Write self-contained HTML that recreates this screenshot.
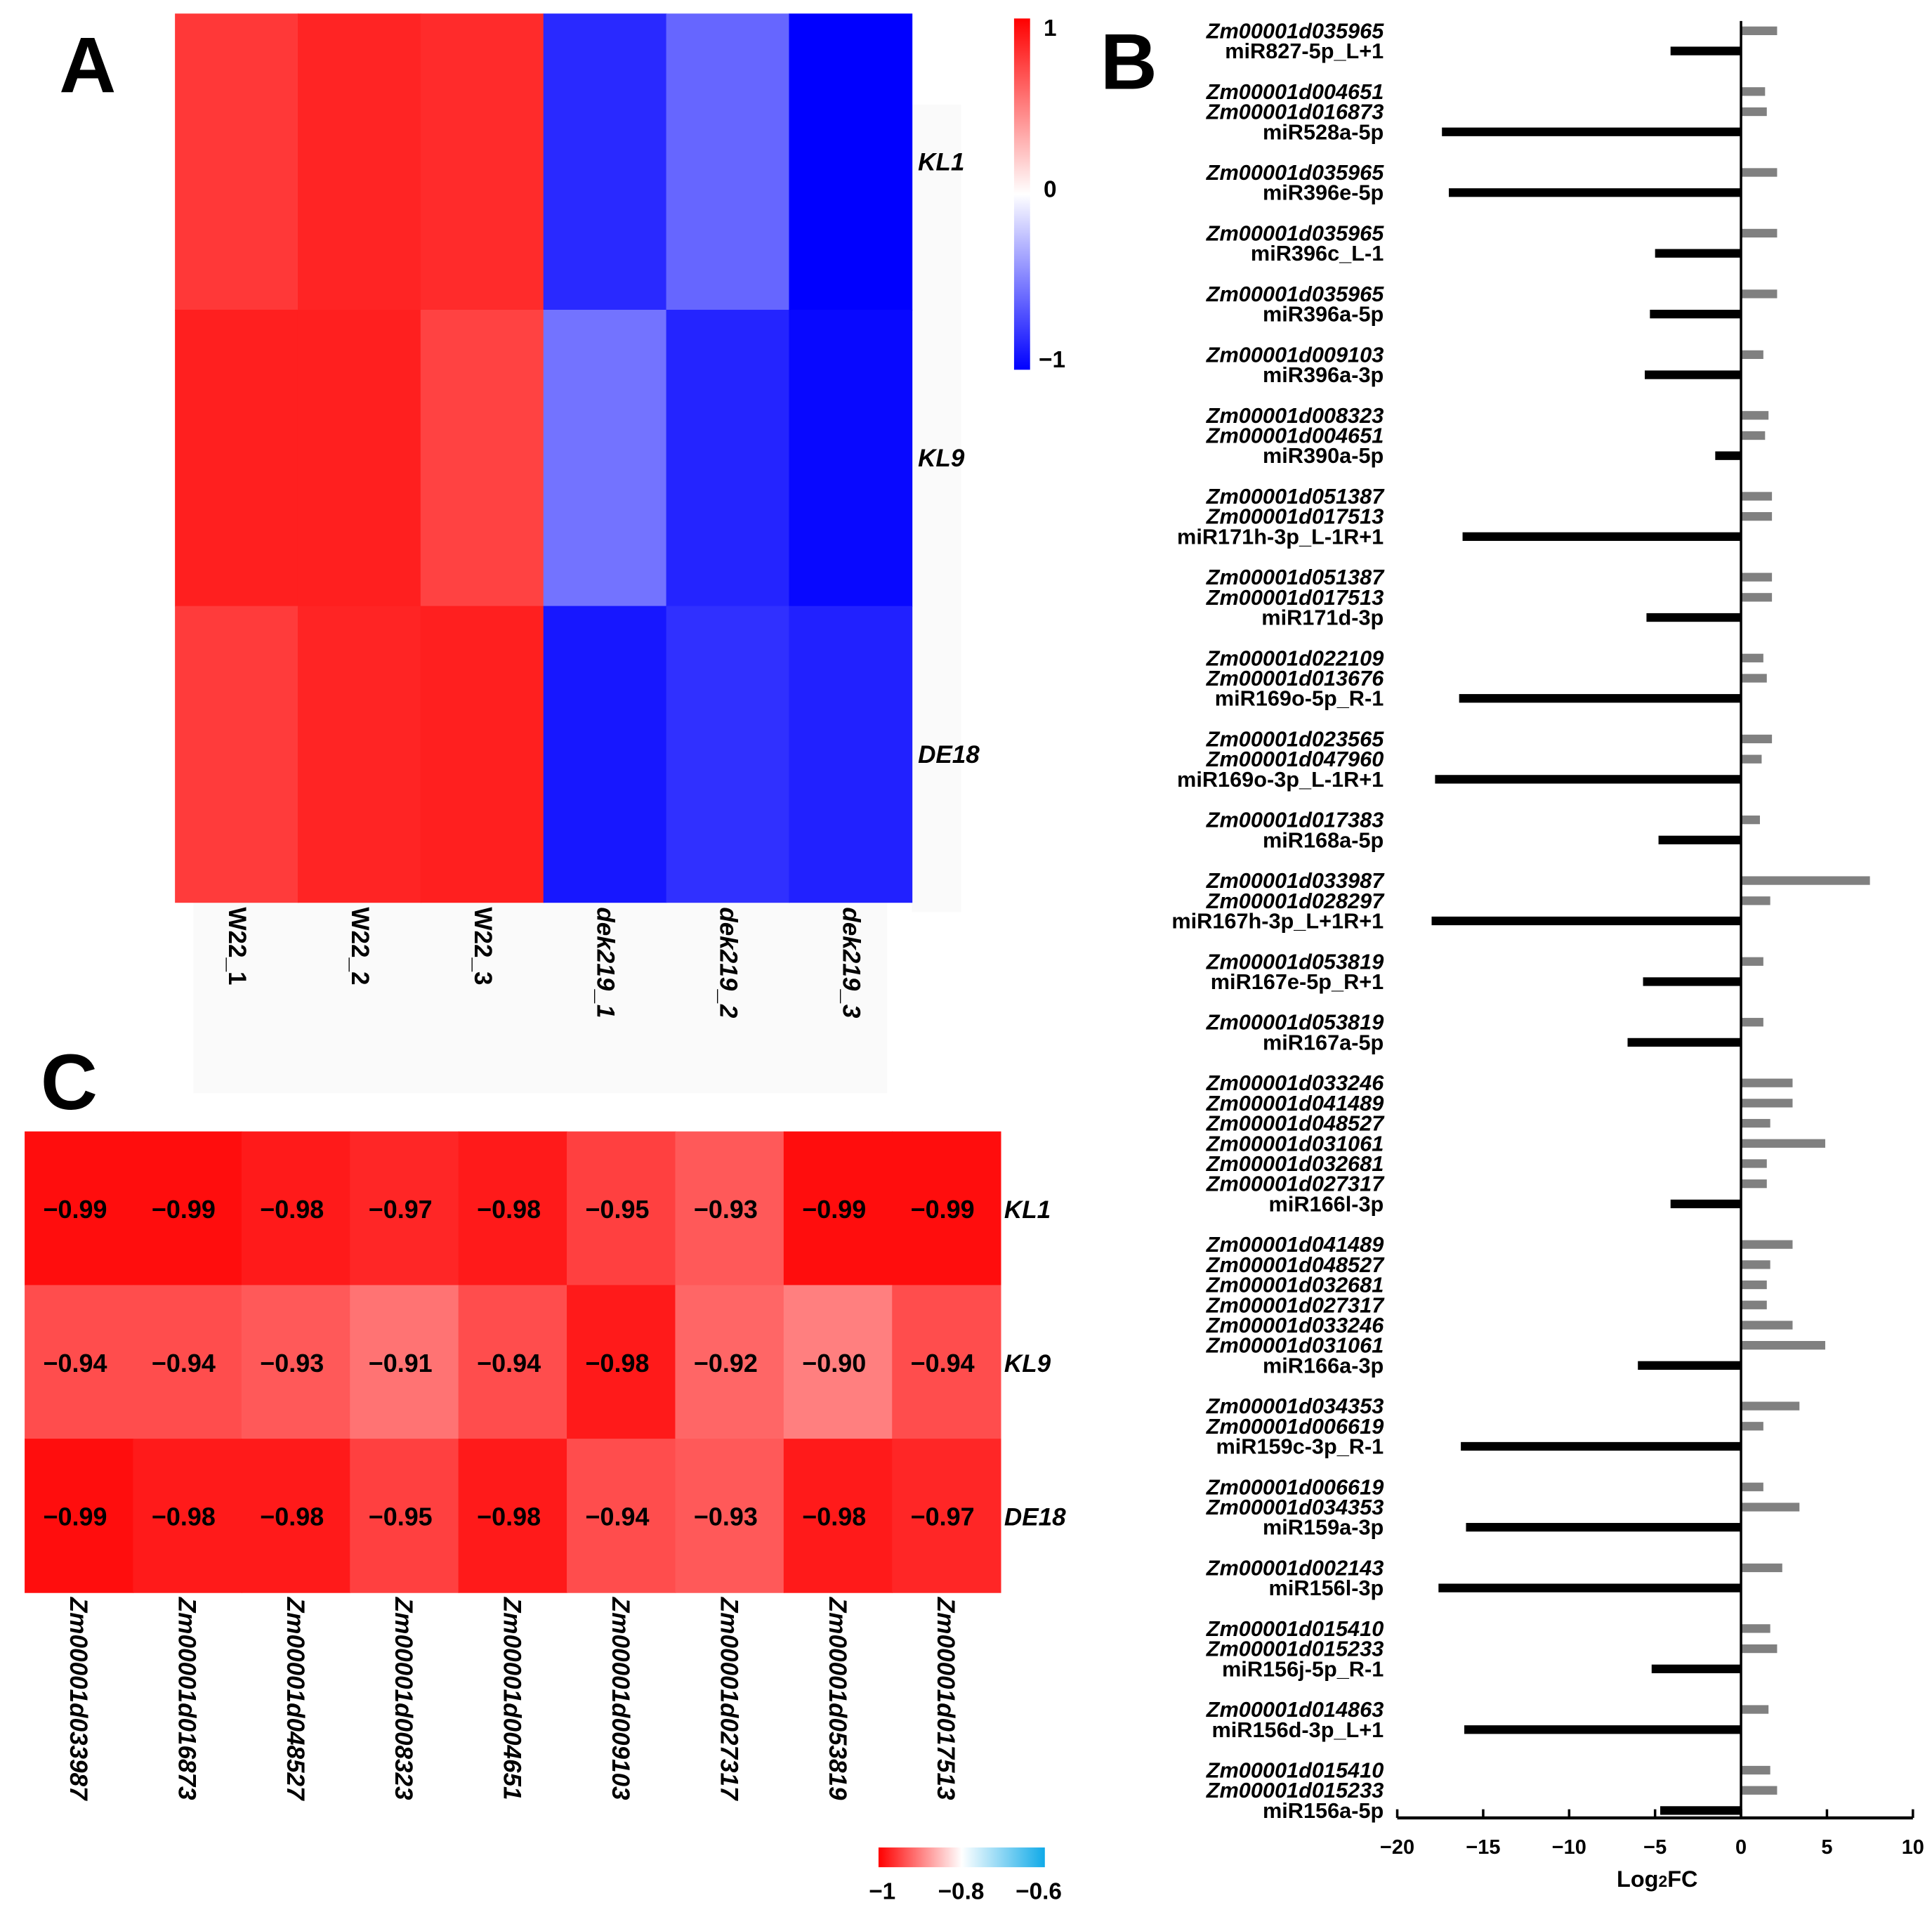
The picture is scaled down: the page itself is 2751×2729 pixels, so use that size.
<!DOCTYPE html>
<html><head><meta charset="utf-8"><style>
html,body{margin:0;padding:0;background:#fff;}
svg{display:block;font-family:"Liberation Sans",Arial,sans-serif;}
</style></head><body>
<svg id="fig" xmlns="http://www.w3.org/2000/svg" width="2751" height="2729" viewBox="0 0 1568 1555.4" preserveAspectRatio="none">
<defs>
<linearGradient id="gA" x1="0" y1="0" x2="0" y2="1"><stop offset="0" stop-color="#ff0000"/><stop offset="0.5" stop-color="#ffffff"/><stop offset="1" stop-color="#0000ff"/></linearGradient>
<linearGradient id="gC" x1="0" y1="0" x2="1" y2="0"><stop offset="0" stop-color="#ff0000"/><stop offset="0.5" stop-color="#ffffff"/><stop offset="1" stop-color="#10aae8"/></linearGradient>
</defs>
<rect x="0" y="0" width="1568" height="1556" fill="#fff"/>
<rect x="740" y="85" width="40" height="655" fill="#fafafa"/>
<rect x="157" y="732" width="563" height="155" fill="#fafafa"/>
<text x="48" y="75" font-size="64" font-weight="bold">A</text>
<text x="893" y="72" font-size="64" font-weight="bold">B</text>
<text x="33" y="900" font-size="64" font-weight="bold">C</text>
<g id="pa"></g>
<g id="pc"></g>
<g id="pb"></g>
<g>
<rect x="823" y="15" width="13" height="285" fill="url(#gA)"/>
<text x="847" y="29" font-size="19" font-weight="bold">1</text>
<text x="847" y="160" font-size="19" font-weight="bold">0</text>
<text x="843" y="298" font-size="19" font-weight="bold">−1</text>
</g>
<g>
<rect x="713" y="1499" width="135" height="16" fill="url(#gC)"/>
<text x="716" y="1541" font-size="19" font-weight="bold" text-anchor="middle">−1</text>
<text x="780" y="1541" font-size="19" font-weight="bold" text-anchor="middle">−0.8</text>
<text x="843" y="1541" font-size="19" font-weight="bold" text-anchor="middle">−0.6</text>
</g>
</svg>
<script>
// ---- Panel A data ----
const aCols = ["W22_1","W22_2","W22_3","dek219_1","dek219_2","dek219_3"];
const aRows = ["KL1","KL9","DE18"];
const aKL1 = [0.78,0.86,0.83,-0.84,-0.6,-1];
const aKL9 = [0.88,0.88,0.74,-0.55,-0.86,-0.97];
const aDE18 = [0.77,0.86,0.88,-0.91,-0.81,-0.87];
// ---- Panel C data ----
const cCols = ["Zm00001d033987","Zm00001d016873","Zm00001d048527","Zm00001d008323","Zm00001d004651","Zm00001d009103","Zm00001d027317","Zm00001d053819","Zm00001d017513"];
const cRows = ["KL1","KL9","DE18"];
const cKL1 = [-0.99,-0.99,-0.98,-0.97,-0.98,-0.95,-0.93,-0.99,-0.99];
const cKL9 = [-0.94,-0.94,-0.93,-0.91,-0.94,-0.98,-0.92,-0.90,-0.94];
const cDE18 = [-0.99,-0.98,-0.98,-0.95,-0.98,-0.94,-0.93,-0.98,-0.97];
// ---- Panel B data ----
const bLabels = [
"Zm00001d035965","miR827-5p_L+1",
"Zm00001d004651","Zm00001d016873","miR528a-5p",
"Zm00001d035965","miR396e-5p",
"Zm00001d035965","miR396c_L-1",
"Zm00001d035965","miR396a-5p",
"Zm00001d009103","miR396a-3p",
"Zm00001d008323","Zm00001d004651","miR390a-5p",
"Zm00001d051387","Zm00001d017513","miR171h-3p_L-1R+1",
"Zm00001d051387","Zm00001d017513","miR171d-3p",
"Zm00001d022109","Zm00001d013676","miR169o-5p_R-1",
"Zm00001d023565","Zm00001d047960","miR169o-3p_L-1R+1",
"Zm00001d017383","miR168a-5p",
"Zm00001d033987","Zm00001d028297","miR167h-3p_L+1R+1",
"Zm00001d053819","miR167e-5p_R+1",
"Zm00001d053819","miR167a-5p",
"Zm00001d033246","Zm00001d041489","Zm00001d048527","Zm00001d031061","Zm00001d032681","Zm00001d027317","miR166l-3p",
"Zm00001d041489","Zm00001d048527","Zm00001d032681","Zm00001d027317","Zm00001d033246","Zm00001d031061","miR166a-3p",
"Zm00001d034353","Zm00001d006619","miR159c-3p_R-1",
"Zm00001d006619","Zm00001d034353","miR159a-3p",
"Zm00001d002143","miR156l-3p",
"Zm00001d015410","Zm00001d015233","miR156j-5p_R-1",
"Zm00001d014863","miR156d-3p_L+1",
"Zm00001d015410","Zm00001d015233","miR156a-5p"];
const bValues = [
2.1,-4.1,
1.4,1.5,-17.4,
2.1,-17,
2.1,-5,
2.1,-5.3,
1.3,-5.6,
1.6,1.4,-1.5,
1.8,1.8,-16.2,
1.8,1.8,-5.5,
1.3,1.5,-16.4,
1.8,1.2,-17.8,
1.1,-4.8,
7.5,1.7,-18,
1.3,-5.7,
1.3,-6.6,
3,3,1.7,4.9,1.5,1.5,-4.1,
3,1.7,1.5,1.5,3,4.9,-6,
3.4,1.3,-16.3,
1.3,3.4,-16,
2.4,-17.6,
1.7,2.1,-5.2,
1.6,-16.1,
1.7,2.1,-4.7];
const bTicks = [-20,-15,-10,-5,0,5,10];

const NS="http://www.w3.org/2000/svg";
function mk(tag, parent, attrs){const e=document.createElementNS(NS,tag);for(const k in attrs)e.setAttribute(k,attrs[k]);parent.appendChild(e);return e;}
function mix(c1,c2,t){return "rgb("+c1.map((v,i)=>Math.round(v+(c2[i]-v)*t)).join(",")+")";}

// Panel A
const pa=document.getElementById('pa');
const aX0=142,aX1=740,aY0=11,aY1=732;
const aW=(aX1-aX0)/aCols.length,aH=(aY1-aY0)/aRows.length;
function colA(v){return v>=0?mix([255,255,255],[255,0,0],v):mix([255,255,255],[0,0,255],-v);}
[aKL1,aKL9,aDE18].forEach((row,r)=>{
  row.forEach((v,c)=>{
    const e=mk('rect',pa,{x:aX0+c*aW,y:aY0+r*aH,width:aW+0.5,height:aH+0.5,fill:colA(v)});
    
    
  });
  const t=mk('text',pa,{x:745,y:aY0+r*aH+aH/2+7,'font-size':20,'font-weight':'bold','font-style':'italic'});
  t.textContent=aRows[r];
  
  
});
aCols.forEach((n,c)=>{
  const cx=aX0+c*aW+aW/2;
  const t=mk('text',pa,{x:0,y:0,'font-size':20,'font-weight':'bold','font-style':n.startsWith('dek')?'italic':'normal',transform:'translate('+(cx-6)+',736) rotate(90)'});
  t.textContent=n;
  
  
});

// Panel C
const pc=document.getElementById('pc');
const cX0=20,cX1=812,cY0=918,cY1=1292;
const cW=(cX1-cX0)/cCols.length,cH=(cY1-cY0)/cRows.length;
function colC(v){const t=(v+1)/0.4;return t<=0.5?mix([255,0,0],[255,255,255],t*2):mix([255,255,255],[16,170,232],(t-0.5)*2);}
[cKL1,cKL9,cDE18].forEach((row,r)=>{
  row.forEach((v,c)=>{
    const e=mk('rect',pc,{x:cX0+c*cW,y:cY0+r*cH,width:cW+0.5,height:cH+0.5,fill:colC(v)});
    
    
    const t=mk('text',pc,{x:cX0+c*cW+cW/2-3,y:cY0+r*cH+cH/2+8,'font-size':20.5,'font-weight':'bold','text-anchor':'middle'});
    t.textContent=v.toFixed(2).replace('-','−');
    
    
  });
  const t=mk('text',pc,{x:815,y:cY0+r*cH+cH/2+8,'font-size':20,'font-weight':'bold','font-style':'italic'});
  t.textContent=cRows[r];
  
  
});
cCols.forEach((n,c)=>{
  const cx=cX0+c*cW+cW/2;
  const t=mk('text',pc,{x:0,y:0,'font-size':20,'font-weight':'bold','font-style':'italic',transform:'translate('+(cx-7)+',1296) rotate(90)'});
  t.textContent=n;
  
  
});

// Panel B
const pb=document.getElementById('pb');
const xs=v=>1413+v*13.95;
let y=25,ys=[];
bLabels.forEach((l,i)=>{ys.push(y); y+= l.startsWith('miR')?33:16.4;});
const scaleY=(1469-25)/(ys[ys.length-1]-25);
const yOf=i=>25+(ys[i]-25)*scaleY;
bLabels.forEach((l,i)=>{
  const yy=yOf(i);const isMi=l.startsWith('miR');
  const t=mk('text',pb,{x:1123,y:yy+6,'font-size':17.5,'font-weight':'bold','font-style':isMi?'normal':'italic','text-anchor':'end'});
  t.textContent=l;
  
  
  const v=bValues[i];
  const x0=Math.min(xs(0),xs(v)),w=Math.abs(xs(v)-xs(0));
  const r=mk('rect',pb,{x:x0,y:yy-3.5,width:w,height:7,fill:isMi?'#000':'#808080'});
  
  
});
const ax=mk('line',pb,{x1:xs(0),y1:17,x2:xs(0),y2:1476,stroke:'#000','stroke-width':2});


const xa=mk('line',pb,{x1:xs(-20),y1:1475,x2:xs(10),y2:1475,stroke:'#000','stroke-width':2.5});


bTicks.forEach(v=>{
  const tk=mk('line',pb,{x1:xs(v),y1:1475,x2:xs(v),y2:1468,stroke:'#000','stroke-width':2});
  
  
  const t=mk('text',pb,{x:xs(v),y:1504,'font-size':16.5,'font-weight':'bold','text-anchor':'middle'});
  t.textContent=(v<0?'−'+(-v):''+v);
  
  
});
const tt=mk('text',pb,{x:1345,y:1531,'font-size':18.5,'font-weight':'bold','text-anchor':'middle'});
tt.innerHTML='Log<tspan font-size="13">2</tspan>FC';


</script>
</body></html>
